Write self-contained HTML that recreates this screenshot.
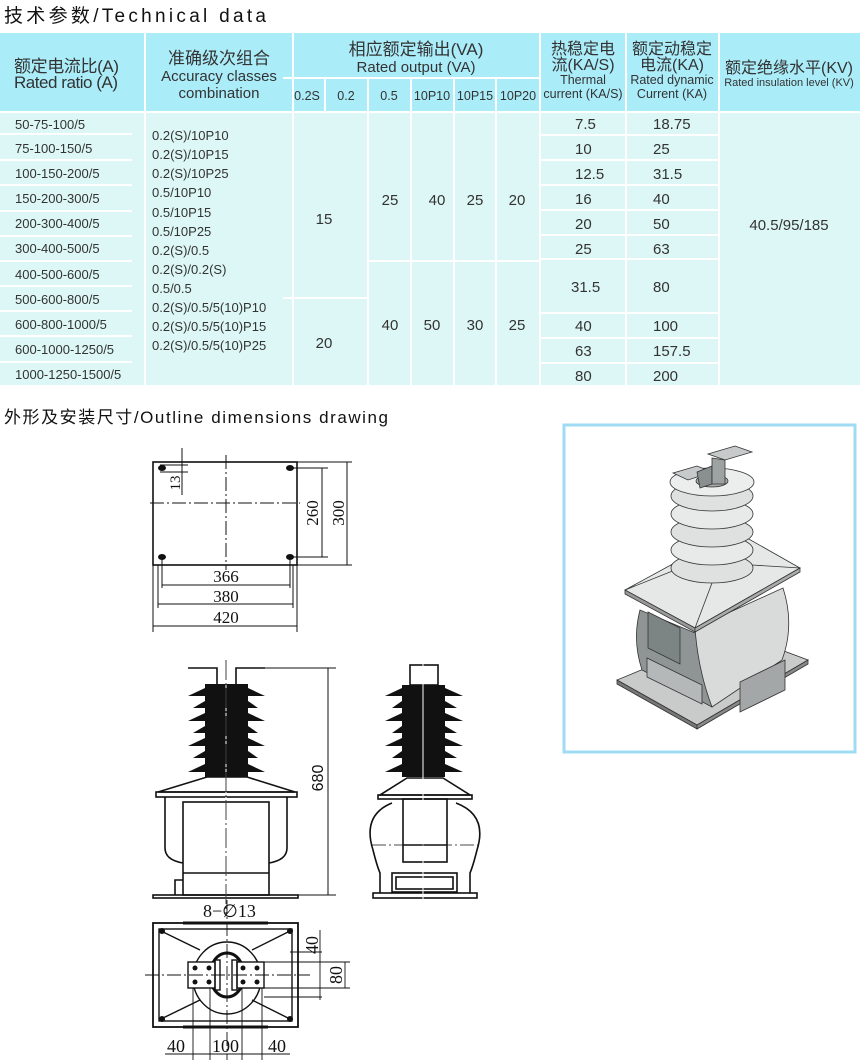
<!DOCTYPE html>
<html><head><meta charset="utf-8"><style>
html,body{margin:0;padding:0;background:#fff}
svg{display:block}
.t{font-family:"Liberation Sans","Noto Sans CJK SC",sans-serif;fill:#333}
.s{font-family:"Liberation Serif",serif;fill:#111}
</style></head><body>
<svg width="860" height="1062" viewBox="0 0 860 1062" xmlns="http://www.w3.org/2000/svg">
<!-- titles -->
<text x="4" y="22" class="t" style="font-size:19px;fill:#111" textLength="262">技术参数/Technical data</text>
<text x="4" y="423" class="t" style="font-size:17px;fill:#111" textLength="384">外形及安装尺寸/Outline dimensions drawing</text>

<!-- table -->
<rect x="0" y="33" width="860" height="79" fill="#abecf9"/>
<rect x="0" y="112" width="860" height="273" fill="#dcf7f5"/>
<g stroke="#fff" stroke-width="2" fill="none">
<line x1="145" y1="33" x2="145" y2="385"/>
<line x1="293" y1="33" x2="293" y2="385"/>
<line x1="540" y1="33" x2="540" y2="385"/>
<line x1="626" y1="33" x2="626" y2="385"/>
<line x1="719" y1="33" x2="719" y2="385"/>
<line x1="283" y1="78" x2="540" y2="78"/>
<line x1="325" y1="78" x2="325" y2="112"/>
<line x1="368" y1="78" x2="368" y2="385"/>
<line x1="411" y1="78" x2="411" y2="385"/>
<line x1="454" y1="78" x2="454" y2="385"/>
<line x1="496" y1="78" x2="496" y2="385"/>
<line x1="0" y1="112" x2="860" y2="112"/>
<line x1="283" y1="298" x2="368" y2="298"/>
<line x1="368" y1="261" x2="540" y2="261"/>
</g>
<g stroke="#fff" stroke-width="2">
<line x1="0" y1="134" x2="132" y2="134"/><line x1="0" y1="160" x2="132" y2="160"/>
<line x1="0" y1="185" x2="132" y2="185"/><line x1="0" y1="211" x2="132" y2="211"/>
<line x1="0" y1="236" x2="132" y2="236"/><line x1="0" y1="261" x2="132" y2="261"/>
<line x1="0" y1="286" x2="132" y2="286"/><line x1="0" y1="311" x2="132" y2="311"/>
<line x1="0" y1="336" x2="132" y2="336"/><line x1="0" y1="362" x2="132" y2="362"/>
<line x1="540" y1="135" x2="719" y2="135"/><line x1="540" y1="160" x2="719" y2="160"/>
<line x1="540" y1="185" x2="719" y2="185"/><line x1="540" y1="210" x2="719" y2="210"/>
<line x1="540" y1="235" x2="719" y2="235"/><line x1="540" y1="259" x2="719" y2="259"/>
<line x1="540" y1="313" x2="719" y2="313"/><line x1="540" y1="338" x2="719" y2="338"/>
<line x1="540" y1="363" x2="719" y2="363"/>
</g>
<!-- header text -->
<g class="t" style="font-size:17px">
<text x="14" y="72" textLength="105">额定电流比(A)</text>
<text x="14" y="88" textLength="104">Rated ratio (A)</text>
<text x="219" y="64" text-anchor="middle">准确级次组合</text>
<text x="219" y="81" text-anchor="middle" style="font-size:15px">Accuracy classes</text>
<text x="219" y="98" text-anchor="middle" style="font-size:15px">combination</text>
<text x="416" y="55" text-anchor="middle">相应额定输出(VA)</text>
<text x="416" y="72" text-anchor="middle" style="font-size:15px">Rated output (VA)</text>
<text x="583" y="54" text-anchor="middle" style="font-size:16px">热稳定电</text>
<text x="583" y="70" text-anchor="middle" style="font-size:16px">流(KA/S)</text>
<text x="583" y="84" text-anchor="middle" style="font-size:12.5px">Thermal</text>
<text x="583" y="98" text-anchor="middle" style="font-size:12.5px">current (KA/S)</text>
<text x="672" y="54" text-anchor="middle" style="font-size:16px">额定动稳定</text>
<text x="672" y="70" text-anchor="middle" style="font-size:16px">电流(KA)</text>
<text x="672" y="84" text-anchor="middle" style="font-size:12.5px">Rated dynamic</text>
<text x="672" y="98" text-anchor="middle" style="font-size:12.5px">Current (KA)</text>
<text x="789" y="73" text-anchor="middle" style="font-size:16px">额定绝缘水平(KV)</text>
<text x="789" y="86" text-anchor="middle" style="font-size:11px">Rated insulation level (KV)</text>
</g>
<g class="t" style="font-size:12.5px" text-anchor="middle">
<text x="307" y="100">0.2S</text><text x="346" y="100">0.2</text><text x="389" y="100">0.5</text>
<text x="432" y="100">10P10</text><text x="475" y="100">10P15</text><text x="518" y="100">10P20</text>
</g>
<!-- body text -->
<g class="t" style="font-size:13px">
<text x="15" y="129">50-75-100/5</text>
<text x="15" y="153">75-100-150/5</text>
<text x="15" y="178">100-150-200/5</text>
<text x="15" y="203">150-200-300/5</text>
<text x="15" y="228">200-300-400/5</text>
<text x="15" y="253">300-400-500/5</text>
<text x="15" y="279">400-500-600/5</text>
<text x="15" y="304">500-600-800/5</text>
<text x="15" y="329">600-800-1000/5</text>
<text x="15" y="354">600-1000-1250/5</text>
<text x="15" y="379">1000-1250-1500/5</text>
<text x="152" y="140">0.2(S)/10P10</text>
<text x="152" y="159">0.2(S)/10P15</text>
<text x="152" y="178">0.2(S)/10P25</text>
<text x="152" y="197">0.5/10P10</text>
<text x="152" y="217">0.5/10P15</text>
<text x="152" y="236">0.5/10P25</text>
<text x="152" y="255">0.2(S)/0.5</text>
<text x="152" y="274">0.2(S)/0.2(S)</text>
<text x="152" y="293">0.5/0.5</text>
<text x="152" y="312">0.2(S)/0.5/5(10)P10</text>
<text x="152" y="331">0.2(S)/0.5/5(10)P15</text>
<text x="152" y="350">0.2(S)/0.5/5(10)P25</text>
</g>
<g class="t" style="font-size:15px" text-anchor="middle">
<text x="324" y="224">15</text><text x="324" y="348">20</text>
<text x="390" y="205">25</text><text x="437" y="205">40</text><text x="475" y="205">25</text><text x="517" y="205">20</text>
<text x="390" y="330">40</text><text x="432" y="330">50</text><text x="475" y="330">30</text><text x="517" y="330">25</text>
<text x="789" y="230">40.5/95/185</text>
</g>
<g class="t" style="font-size:15px">
<text x="575" y="129">7.5</text><text x="575" y="154">10</text><text x="575" y="179">12.5</text>
<text x="575" y="204">16</text><text x="575" y="229">20</text><text x="575" y="254">25</text>
<text x="571" y="292">31.5</text><text x="575" y="331">40</text><text x="575" y="356">63</text><text x="575" y="381">80</text>
<text x="653" y="129">18.75</text><text x="653" y="154">25</text><text x="653" y="179">31.5</text>
<text x="653" y="204">40</text><text x="653" y="229">50</text><text x="653" y="254">63</text>
<text x="653" y="292">80</text><text x="653" y="331">100</text><text x="653" y="356">157.5</text><text x="653" y="381">200</text>
</g>

<!-- top view -->
<g stroke="#111" fill="none" stroke-width="1">
<rect x="153" y="462" width="144" height="103" stroke-width="1.6"/>
<line x1="150" y1="503" x2="300" y2="503" stroke-dasharray="14,3,2,3"/>
<line x1="226" y1="455" x2="226" y2="570" stroke-dasharray="14,3,2,3"/>
<line x1="297" y1="462" x2="352" y2="462"/><line x1="297" y1="565" x2="352" y2="565"/>
<line x1="290" y1="468" x2="328" y2="468"/><line x1="290" y1="557" x2="328" y2="557"/>
<line x1="322" y1="468" x2="322" y2="557"/><line x1="347" y1="462" x2="347" y2="565"/>
<line x1="162" y1="557" x2="162" y2="588"/><line x1="290" y1="557" x2="290" y2="588"/>
<line x1="158" y1="565" x2="158" y2="608"/><line x1="293" y1="565" x2="293" y2="608"/>
<line x1="153" y1="565" x2="153" y2="632"/><line x1="297" y1="565" x2="297" y2="632"/>
<line x1="162" y1="585" x2="290" y2="585"/><line x1="158" y1="604" x2="293" y2="604"/>
<line x1="153" y1="626" x2="297" y2="626"/>
<line x1="182" y1="448" x2="182" y2="495"/><line x1="160" y1="465" x2="188" y2="465"/><line x1="160" y1="472" x2="188" y2="472"/>
</g>
<g fill="#111">
<ellipse cx="162" cy="468" rx="4" ry="3"/><ellipse cx="290" cy="468" rx="4" ry="3"/>
<ellipse cx="162" cy="557" rx="4" ry="3"/><ellipse cx="290" cy="557" rx="4" ry="3"/>
</g>
<g class="s" style="font-size:17px">
<text x="226" y="582" text-anchor="middle">366</text>
<text x="226" y="602" text-anchor="middle">380</text>
<text x="226" y="623" text-anchor="middle">420</text>
<text transform="translate(180,483) rotate(-90)" text-anchor="middle" style="font-size:15px">13</text>
<text transform="translate(318,513) rotate(-90)" text-anchor="middle">260</text>
<text transform="translate(344,513) rotate(-90)" text-anchor="middle">300</text>
</g>

<!-- front view -->
<g stroke="#111" fill="none" stroke-width="1.6">
<path d="M188,668 H217 V684 M265,668 H236 V684"/>
<path d="M207,777 L247,777 L295,792 L158,792 Z"/>
<rect x="156" y="792" width="141" height="5"/>
<path d="M165,797 V848 Q165,860 183,863 M287,797 V848 Q287,860 269,863"/>
<rect x="183" y="802" width="86" height="93"/>
<line x1="183" y1="873" x2="269" y2="873"/>
<path d="M183,880 H175 V895"/>
<rect x="153" y="895" width="145" height="3"/>
</g>
<g fill="#111">
<rect x="205" y="684" width="43" height="93"/>
<path d="M205,688 L248,688 L265,696 L188,696 Z"/>
<path d="M205,701 L248,701 L258,708 L193,708 Z"/>
<path d="M205,713 L248,713 L265,721 L188,721 Z"/>
<path d="M205,726 L248,726 L258,733 L193,733 Z"/>
<path d="M205,738 L248,738 L265,746 L188,746 Z"/>
<path d="M205,751 L248,751 L258,758 L193,758 Z"/>
<path d="M205,764 L248,764 L265,772 L188,772 Z"/>
</g>
<line x1="226" y1="660" x2="226" y2="910" stroke="#fff" stroke-width="1"/>
<line x1="226" y1="660" x2="226" y2="915" stroke="#111" stroke-width="0.8" stroke-dasharray="20,3,2,3"/>
<g stroke="#111" stroke-width="1">
<line x1="265" y1="668" x2="336" y2="668"/><line x1="298" y1="895" x2="336" y2="895"/>
<line x1="328" y1="668" x2="328" y2="895"/>
</g>
<text transform="translate(323,778) rotate(-90)" text-anchor="middle" class="t" style="font-size:16px;fill:#111">680</text>

<!-- side view -->
<g stroke="#111" fill="none" stroke-width="1.6">
<rect x="410" y="665" width="28" height="20"/>
<path d="M407,778 L443,778 L470,795 L380,795 Z"/>
<rect x="378" y="795" width="94" height="4"/>
<path d="M392,803 Q362,815 373,850 Q377,866 380,873 V893 M456,803 Q488,815 477,850 Q473,866 470,873 V893"/>
<rect x="403" y="799" width="44" height="63"/>
<line x1="403" y1="845" x2="447" y2="845"/>
<rect x="392" y="873" width="65" height="19"/><rect x="396" y="877" width="57" height="12"/>
<rect x="373" y="893" width="104" height="5"/>
</g>
<g fill="#111">
<rect x="402" y="685" width="43" height="92"/>
<path d="M402,688 L445,688 L463,696 L385,696 Z"/>
<path d="M402,701 L445,701 L457,708 L392,708 Z"/>
<path d="M402,713 L445,713 L463,721 L385,721 Z"/>
<path d="M402,726 L445,726 L457,733 L392,733 Z"/>
<path d="M402,738 L445,738 L463,746 L385,746 Z"/>
<path d="M402,751 L445,751 L457,758 L392,758 Z"/>
<path d="M402,764 L445,764 L463,772 L385,772 Z"/>
</g>
<line x1="423" y1="660" x2="423" y2="900" stroke="#fff" stroke-width="1"/>
<line x1="372" y1="845" x2="478" y2="845" stroke="#111" stroke-width="0.8" stroke-dasharray="14,3,2,3"/>

<!-- bottom view -->
<text x="203" y="917" class="s" style="font-size:18px">8−∅13</text>
<g stroke="#111" fill="none" stroke-width="1.4">
<rect x="153" y="923" width="145" height="104" stroke-width="1.8"/>
<rect x="159" y="929" width="133" height="92"/>
<line x1="183" y1="923" x2="268" y2="923" stroke-width="3"/>
<line x1="183" y1="1027" x2="268" y2="1027" stroke-width="3"/>
<path d="M161,931 L200,950 M290,931 L252,950 M161,1019 L200,1000 M290,1019 L252,1000"/>
<ellipse cx="227" cy="978" rx="34" ry="36"/>
<ellipse cx="227" cy="975" rx="17" ry="22" stroke-width="3"/>
<rect x="188" y="962" width="27" height="26" fill="#fff"/>
<rect x="237" y="962" width="27" height="26" fill="#fff"/>
<rect x="215" y="960" width="5" height="30"/><rect x="232" y="960" width="5" height="30"/>
</g>
<g fill="#111">
<circle cx="195" cy="968" r="2.5"/><circle cx="209" cy="968" r="2.5"/><circle cx="195" cy="982" r="2.5"/><circle cx="209" cy="982" r="2.5"/>
<circle cx="243" cy="968" r="2.5"/><circle cx="257" cy="968" r="2.5"/><circle cx="243" cy="982" r="2.5"/><circle cx="257" cy="982" r="2.5"/>
<circle cx="162" cy="931" r="3"/><circle cx="290" cy="931" r="3"/><circle cx="162" cy="1019" r="3"/><circle cx="290" cy="1019" r="3"/>
</g>
<g stroke="#111" stroke-width="0.9">
<line x1="145" y1="975" x2="310" y2="975" stroke-dasharray="14,3,2,3"/>
<line x1="227" y1="900" x2="227" y2="1060" stroke-dasharray="14,3,2,3"/>
<line x1="264" y1="962" x2="350" y2="962"/><line x1="264" y1="988" x2="350" y2="988"/>
<line x1="264" y1="997" x2="322" y2="997"/><line x1="290" y1="952" x2="322" y2="952"/>
<line x1="320" y1="930" x2="320" y2="1000"/><line x1="345" y1="962" x2="345" y2="988"/>
<line x1="193" y1="988" x2="193" y2="1060"/><line x1="210" y1="988" x2="210" y2="1060"/>
<line x1="242" y1="988" x2="242" y2="1060"/><line x1="262" y1="988" x2="262" y2="1060"/>
<line x1="165" y1="1054" x2="290" y2="1054"/>
</g>
<g class="s" style="font-size:18px">
<text x="167" y="1052">40</text><text x="212" y="1052">100</text><text x="268" y="1052">40</text>
<text transform="translate(318,945) rotate(-90)" text-anchor="middle">40</text>
<text transform="translate(342,975) rotate(-90)" text-anchor="middle">80</text>
</g>

<!-- 3D picture -->
<rect x="564" y="425" width="291" height="327" fill="#fff" stroke="#9fdcf3" stroke-width="3"/>
<g stroke="#333" stroke-width="0.8">
<path d="M617,680 L697,725 L808,660 L733,632 Z" fill="#c9cbcb"/>
<path d="M617,680 L697,725 L697,729 L617,684 Z" fill="#777"/>
<path d="M697,725 L808,660 L808,664 L697,729 Z" fill="#888"/>
<path d="M640,610 Q632,640 642,670 L712,707 L712,640 Z" fill="#8f9595"/>
<path d="M648,612 L680,628 L680,664 L648,648 Z" fill="#7d8484"/>
<path d="M647,658 L702,685 L702,704 L647,677 Z" fill="#b5b8b8"/>
<path d="M695,628 L783,588 Q795,625 782,660 L712,707 Q698,670 695,628 Z" fill="#d9dbdb"/>
<path d="M740,682 L785,660 L785,690 L740,712 Z" fill="#a3a7a7"/>
<path d="M625,590 L695,628 L800,568 L747,538 L680,560 Z" fill="#e6e8e8"/>
<path d="M625,590 L625,594 L695,632 L695,628 Z" fill="#999"/>
<path d="M695,628 L695,632 L800,572 L800,568 Z" fill="#aaa"/>
<line x1="695" y1="628" x2="712" y2="583"/>
<line x1="625" y1="590" x2="680" y2="568"/>
<line x1="800" y1="568" x2="752" y2="565"/>
<ellipse cx="712" cy="568" rx="41" ry="15" fill="#dfe1e1"/>
<ellipse cx="712" cy="550" rx="41" ry="15" fill="#e8e9e9"/>
<ellipse cx="712" cy="532" rx="41" ry="15" fill="#dfe1e1"/>
<ellipse cx="712" cy="514" rx="41" ry="15" fill="#e8e9e9"/>
<ellipse cx="712" cy="496" rx="41" ry="15" fill="#dfe1e1"/>
<ellipse cx="712" cy="482" rx="42" ry="14" fill="#eceded"/>
<ellipse cx="712" cy="481" rx="16" ry="6" fill="#aaa"/>
<path d="M673,473 L697,466 L712,472 L688,480 Z" fill="#c7caca"/>
<path d="M697,472 L712,466 L712,484 L700,488 Z" fill="#8a8f8f"/>
<path d="M708,454 L735,446 L752,452 L725,460 Z" fill="#c7caca"/>
<path d="M712,458 L725,460 L725,484 L712,484 Z" fill="#9da2a2"/>
</g>
</svg>
</body></html>
